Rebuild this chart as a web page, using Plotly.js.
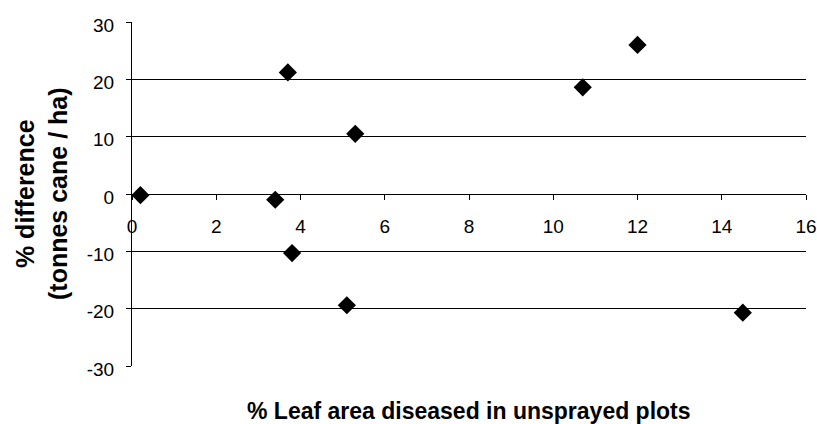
<!DOCTYPE html>
<html>
<head>
<meta charset="utf-8">
<script src="https://cdn.plot.ly/plotly-3.0.1.min.js"></script>
<style>html,body{margin:0;padding:0;background:#fff;}#chart{width:817px;height:424px;}</style>
</head>
<body>
<div id="chart"></div>
<script>
// Data
const leafAreaDiseased = [0.2, 3.4, 3.7, 3.8, 5.1, 5.3, 10.7, 12.0, 14.5];
const pctDifference = [-0.2, -1.0, 21.2, -10.3, -19.4, 10.5, 18.6, 26.0, -20.7];
const xTickValues = [0, 2, 4, 6, 8, 10, 12, 14, 16];
const yTickValues = [-30, -20, -10, 0, 10, 20, 30];
const xTitle = '% Leaf area diseased in unsprayed plots';
const yTitle = '% difference<br>(tonnes cane / ha)';

const FONT = 'Arial, "Liberation Sans", sans-serif';

const trace = {
  type: 'scatter',
  mode: 'markers',
  x: leafAreaDiseased,
  y: pctDifference,
  marker: {symbol: 'diamond', size: 14, color: '#000000', line: {width: 0}}
};

const layout = {
  width: 817, height: 424,
  margin: {l: 132, r: 11, t: 22, b: 58, pad: 0},
  paper_bgcolor: '#ffffff', plot_bgcolor: '#ffffff',
  showlegend: false,
  font: {family: FONT, color: '#000000'},
  xaxis: {
    range: [0, 16], tickvals: xTickValues, ticktext: xTickValues.map(String),
    anchor: 'free', position: 0.5,
    showgrid: false, zeroline: false,
    showline: true, linecolor: '#000000', linewidth: 1,
    ticks: 'outside', ticklen: 5, tickwidth: 1, tickcolor: '#000000',
    tickfont: {family: FONT, size: 19, color: '#000000'},
    ticklabelstandoff: 10
  },
  yaxis: {
    range: [-30, 30], tickvals: yTickValues, ticktext: yTickValues.map(String),
    showgrid: true, gridcolor: '#000000', gridwidth: 1,
    zeroline: false,
    showline: true, linecolor: '#000000', linewidth: 1,
    ticks: 'outside', ticklen: 5, tickwidth: 1, tickcolor: '#000000',
    tickfont: {family: FONT, size: 19, color: '#000000'},
    ticklabelstandoff: 8, ticklabelshift: 3
  },
  annotations: [
    {text: '<b>' + xTitle + '</b>', xref: 'paper', yref: 'paper', x: 0.5, y: 0,
     xanchor: 'center', yanchor: 'middle', yshift: -45, showarrow: false,
     font: {family: FONT, size: 23, color: '#000000'}},
    {text: '<b>' + yTitle + '</b>', xref: 'paper', yref: 'paper', x: 0, y: 0.5,
     xanchor: 'center', yanchor: 'middle', xshift: -91, textangle: -90, showarrow: false,
     font: {family: FONT, size: 25, color: '#000000'}}
  ]
};

Plotly.newPlot('chart', [trace], layout, {displayModeBar: false, staticPlot: true});
</script>
</body>
</html>
